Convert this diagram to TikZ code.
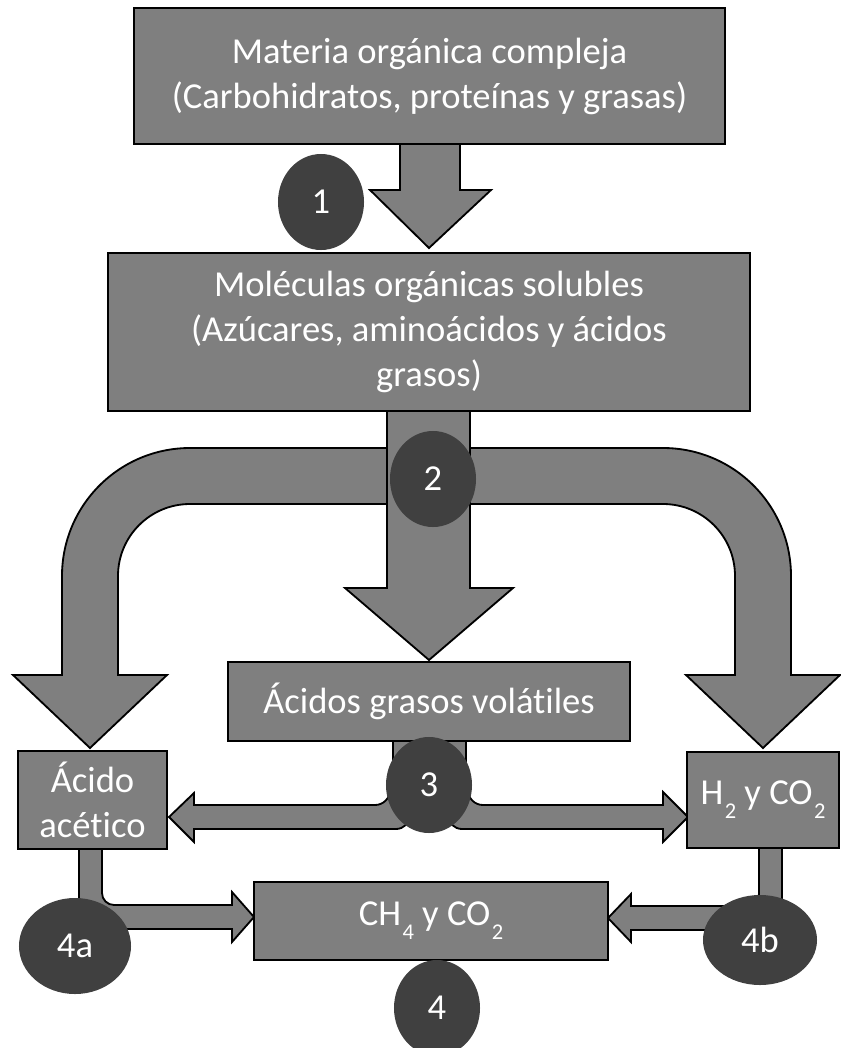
\documentclass[tikz,border=0pt]{standalone}
\usepackage{fontspec}
\setmainfont{Carlito}[Ligatures={NoCommon,NoContextual},RawFeature=-calt]
\usetikzlibrary{shapes.geometric}
\definecolor{boxgray}{RGB}{127,127,127}
\definecolor{numgray}{RGB}{64,64,64}
\newcommand{\lowsub}[1]{\kern1pt\raisebox{-0.8ex}{\fontsize{16}{16}\selectfont #1}}

\begin{document}
\begin{tikzpicture}[x=0.025cm, y=-0.025cm, line width=1.3pt,
  box/.style={draw=black, fill=boxgray, text=white, align=center, inner sep=0pt, font=\fontsize{26}{32}\selectfont},
  num/.style={ellipse, fill=numgray, text=white, inner sep=0pt, minimum width=2.15cm, minimum height=2.4cm, font=\fontsize{26}{32}\selectfont},
  body/.style={draw=black, fill=boxgray, line join=miter}]
\useasboundingbox (0,0) rectangle (841,1048);

% block arrows
\draw[body] (400,140) -- (400,190) -- (370,190) -- (429,248) -- (491,190) -- (460,190) -- (460,140) -- cycle;
\draw[body] (387,448) -- (190,448) arc[start angle=-90, end angle=-180, radius=128] -- (62,675) -- (13,675) -- (90,748) -- (167,675) -- (118,675) -- (118,576) arc[start angle=180, end angle=270, radius=72] -- (387,504) -- cycle;
\draw[body] (470,448) -- (663,448) arc[start angle=-90, end angle=0, radius=128] -- (791,675) -- (840,675) -- (763,748) -- (686,675) -- (735,675) -- (735,576) arc[start angle=0, end angle=-90, radius=72] -- (470,504) -- cycle;
\draw[body] (387,405) -- (387,588) -- (345,588) -- (429,660) -- (513,588) -- (470,588) -- (470,405) -- cycle;

% stage 3 and 4
\draw[body] (393,735) rectangle (466,790);
\draw[body] (169,817) -- (194,793) -- (194,805) -- (375,805) arc[start angle=90, end angle=0, radius=15] -- (390,775) -- (410,775) -- (410,815) arc[start angle=0, end angle=90, radius=14] -- (194,829) -- (194,842) -- cycle;
\draw[body] (688,817) -- (663,792) -- (663,805) -- (483,805) arc[start angle=90, end angle=180, radius=15] -- (468,775) -- (448,775) -- (448,815) arc[start angle=180, end angle=90, radius=14] -- (663,829) -- (663,842) -- cycle;
\draw[body] (79,845) -- (102,845) -- (102,893) arc[start angle=180, end angle=90, radius=12] -- (232,905) -- (232,892) -- (254,917) -- (232,942) -- (232,929) -- (79,929) -- cycle;
\draw[body] (782,845) -- (759,845) -- (759,894) arc[start angle=0, end angle=90, radius=12] -- (631,906) -- (631,894) -- (608,918) -- (631,942) -- (631,930) -- (782,930) -- cycle;

% boxes
\node[box, minimum width=14.775cm, minimum height=3.4cm] (materia) at (429.5,76) {Materia orgánica compleja\\(Carbohidratos, proteínas y grasas)};
\node[box, minimum width=16.05cm, minimum height=3.95cm] (moleculas) at (429,332) {Moléculas orgánicas solubles\\(Azúcares, aminoácidos y ácidos\\grasos)};
\node[box, minimum width=10.05cm, minimum height=1.975cm] (agv) at (429,701.5) {Ácidos grasos volátiles};
\node[box, minimum width=3.725cm, minimum height=2.45cm] (acetico) at (92.5,800) {Ácido\\acético};
\node[box, minimum width=3.8cm, minimum height=2.4cm] (hidrog) at (763,800) {H\lowsub{2} y CO\lowsub{2}};
\node[box, minimum width=8.85cm, minimum height=1.95cm] (metano) at (431,921) {CH\lowsub{4} y CO\lowsub{2}};

% stage numbers
\node[num] (n1) at (321,202) {1};
\node[num] (n2) at (433,479) {2};
\node[num] (n3) at (429,785) {3};
\node[num] (n4) at (437,1008) {4};
\node[num, minimum width=2.8cm] (n4a) at (75,946) {4a};
\node[num, minimum width=2.85cm, minimum height=2.25cm] (n4b) at (760,940) {4b};
\end{tikzpicture}
\end{document}
